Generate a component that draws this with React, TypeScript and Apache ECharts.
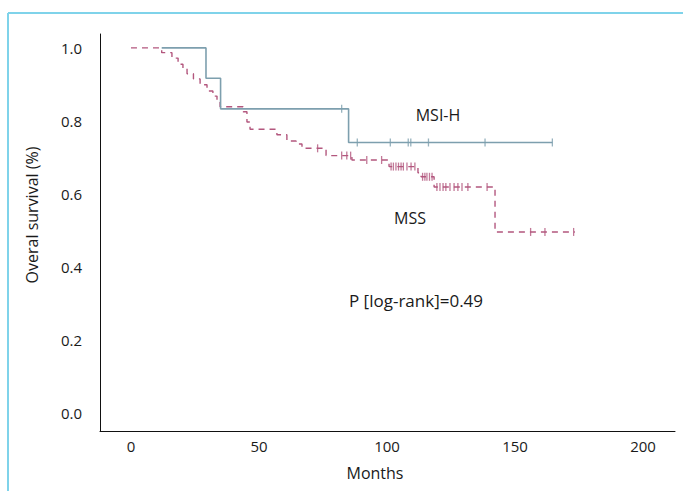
import React, { useEffect, useRef } from "react";
import * as echarts from "echarts";

// MSI-H Kaplan-Meier curve (months, survival after the event)
const msiTimes = [12, 29.3, 35, 85, 164.6];
const msiSurv = [1.0, 0.917, 0.833, 0.741, 0.741];
const msiCensored = [82.3, 88.4, 101.3, 108.3, 109.3, 116.2, 138.3, 164.6];

// MSS Kaplan-Meier curve
const mssTimes = [0, 12.0, 16.0, 18.4, 20.3, 21.9, 24.4, 27.0, 29.7, 32.0, 33.6, 34.8, 43.8, 45.3, 46.5, 57.0, 60.9, 64.5, 66.8, 76.2, 86.3, 100.8, 112.1, 113.3, 118.4, 142.2, 173.4];
const mssSurv = [1.0, 0.987, 0.972, 0.955, 0.944, 0.929, 0.915, 0.899, 0.882, 0.868, 0.852, 0.839, 0.825, 0.797, 0.777, 0.762, 0.745, 0.737, 0.725, 0.705, 0.693, 0.675, 0.658, 0.647, 0.619, 0.496, 0.496];
const mssCensored = [72.9, 82.3, 84.3, 85.8, 92.1, 97.9, 101.6, 102.5, 103.5, 104.5, 105.5, 106.4, 107.8, 109.4, 110.9, 113.9, 114.8, 115.6, 116.6, 117.6, 119.5, 120.7, 121.9, 123, 124.6, 126.2, 127.7, 129.3, 131.6, 139.1, 156.1, 161.7, 172.9];

const xTicks = [0, 50, 100, 150, 200];
const yTicks = [0, 0.2, 0.4, 0.6, 0.8, 1.0];

const FONT = "Open Sans";
const MSS_COLOR = "#b3577e";
const MSI_COLOR = "#7d9fae";

function levelAt(times: number[], surv: number[], t: number): number {
  let v = surv[0];
  for (let i = 0; i < times.length; i++) {
    if (times[i] <= t) v = surv[i];
  }
  return v;
}

export default function App() {
  const ref = useRef<HTMLDivElement>(null);
  useEffect(() => {
    if (!ref.current) return;
    const chart = echarts.init(ref.current, null, { renderer: "svg" });
    const msiLine = msiTimes.map((t, i) => [t, msiSurv[i]]);
    const mssLine = mssTimes.map((t, i) => [t, mssSurv[i]]);
    const msiC = msiCensored.map((t) => [t, levelAt(msiTimes, msiSurv, t)]);
    const mssC = mssCensored.map((t) => [t, levelAt(mssTimes, mssSurv, t)]);
    chart.setOption({
      animation: false,
      backgroundColor: "#ffffff",
      grid: { left: 100, right: 8, top: 34, bottom: 60, containLabel: false },
      xAxis: {
        type: "value",
        min: -12.1,
        max: 212.5,
        splitLine: { show: false },
        axisTick: { show: false },
        axisLine: { show: true, onZero: false, lineStyle: { color: "#111", width: 1 } },
        axisLabel: {
          customValues: xTicks,
          margin: 7,
          color: "#1a1a1a",
          fontSize: 15,
          fontFamily: FONT,
        },
      },
      yAxis: {
        type: "value",
        min: -0.049,
        max: 1.038,
        splitLine: { show: false },
        axisTick: { show: false },
        axisLine: { show: true, onZero: false, lineStyle: { color: "#111", width: 1 } },
        axisLabel: {
          customValues: yTicks,
          formatter: (v: number) => v.toFixed(1),
          margin: 18,
          color: "#1a1a1a",
          fontSize: 15,
          fontFamily: FONT,
        },
      },
      series: [
        {
          name: "MSS",
          type: "line",
          step: "end",
          data: mssLine,
          symbol: "none",
          lineStyle: { color: MSS_COLOR, width: 1.4, type: [6, 5] },
          z: 2,
        },
        {
          name: "MSS censored",
          type: "scatter",
          data: mssC,
          symbol: "rect",
          symbolSize: [1.3, 8],
          itemStyle: { color: MSS_COLOR },
          z: 3,
        },
        {
          name: "MSI-H",
          type: "line",
          step: "end",
          data: msiLine,
          symbol: "none",
          lineStyle: { color: MSI_COLOR, width: 1.6 },
          z: 4,
        },
        {
          name: "MSI-H censored",
          type: "scatter",
          data: msiC,
          symbol: "rect",
          symbolSize: [1.3, 8],
          itemStyle: { color: MSI_COLOR },
          z: 5,
        },
      ],
      graphic: [
        { type: "line", shape: { x1: 8, y1: 13, x2: 683, y2: 13 }, style: { stroke: "#7fd3ea", lineWidth: 2 } },
        { type: "line", shape: { x1: 8, y1: 13, x2: 8, y2: 491 }, style: { stroke: "#7fd3ea", lineWidth: 2 } },
        {
          type: "text", x: 438, y: 115,
          style: { text: "MSI-H", align: "center", verticalAlign: "middle", fill: "#1a1a1a", font: `16px "${FONT}"` },
        },
        {
          type: "text", x: 410, y: 218,
          style: { text: "MSS", align: "center", verticalAlign: "middle", fill: "#1a1a1a", font: `16px "${FONT}"` },
        },
        {
          type: "text", x: 416, y: 300,
          style: { text: "P [log-rank]=0.49", align: "center", verticalAlign: "middle", fill: "#1a1a1a", font: `17px "${FONT}"` },
        },
        {
          type: "text", x: 375, y: 473,
          style: { text: "Months", align: "center", verticalAlign: "middle", fill: "#1a1a1a", font: `16px "${FONT}"` },
        },
        {
          type: "text", x: 32, y: 215, rotation: Math.PI / 2,
          style: { text: "Overal survival (%)", align: "center", verticalAlign: "middle", fill: "#1a1a1a", font: `16px "${FONT}"` },
        },
      ],
    });
    return () => chart.dispose();
  }, []);
  return (
    <div
      ref={ref}
      style={{ position: "fixed", left: 0, top: 0, width: 683, height: 491 }}
    />
  );
}
